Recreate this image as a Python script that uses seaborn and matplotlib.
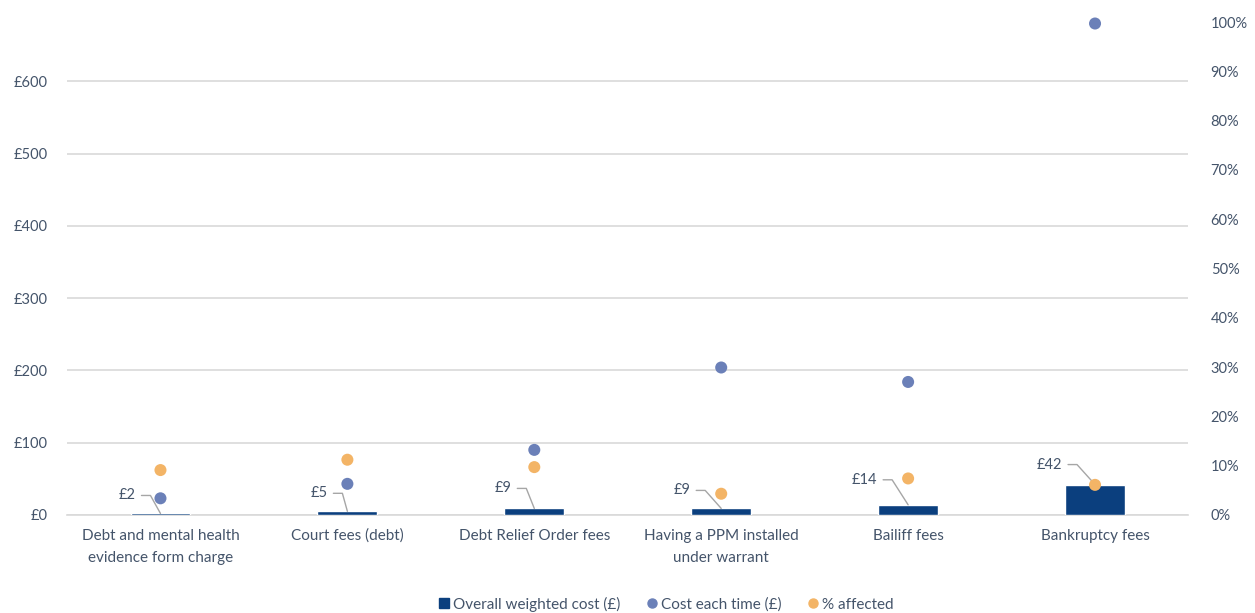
import matplotlib
matplotlib.use("Agg")
import matplotlib.pyplot as plt
from matplotlib.lines import Line2D
from matplotlib.ticker import FuncFormatter, MultipleLocator
import seaborn as sns
import pandas as pd

categories = [
    "Debt and mental health\nevidence form charge",
    "Court fees (debt)",
    "Debt Relief Order fees",
    "Having a PPM installed\nunder warrant",
    "Bailiff fees",
    "Bankruptcy fees",
]
weighted_cost = [2, 5, 9, 9, 14, 42]          # £, bars
cost_each_time = [23, 43, 90, 204, 184, 680]   # £, left axis
pct_affected = [0.091, 0.112, 0.097, 0.043, 0.074, 0.061]  # right axis

# label placement in pixels (text right edge left of bar centre, height above bar top)
label_dx = [-25, -20, -23, -31, -31, -33]
label_dy = [18, 18, 20, 18, 25, 20]

NAVY = "#0B3F7E"
SLATE = "#6B80B8"
ORANGE = "#F3B466"
TEXT = "#44546A"
GRID = "#D9D9D9"

df = pd.DataFrame({
    "category": categories,
    "weighted": weighted_cost,
    "cost": cost_each_time,
    "pct": pct_affected,
})

sns.set_theme(style="white")
plt.rcParams["font.family"] = ["Lato", "DejaVu Sans"]

fig = plt.figure(figsize=(12.55, 6.13), dpi=100)
ax = fig.add_axes([0.0534, 0.160, 0.8936, 0.804])
ax2 = ax.twinx()

sns.barplot(data=df, x="category", y="weighted", order=categories,
            color=NAVY, width=0.32, saturation=1, ax=ax, zorder=3)
sns.scatterplot(data=df, x="category", y="cost", color=SLATE, s=75,
                edgecolor="none", ax=ax, zorder=4, clip_on=False)
sns.scatterplot(data=df, x="category", y="pct", color=ORANGE, s=75,
                edgecolor="none", ax=ax2, zorder=4, clip_on=False)

ax.set_xlim(-0.5, len(categories) - 0.5)
ax.set_ylim(0, 682)
ax2.set_ylim(0, 1.0)

ax.yaxis.set_major_locator(MultipleLocator(100))
ax.yaxis.set_major_formatter(FuncFormatter(lambda v, p: f"£{v:.0f}"))
ax2.yaxis.set_major_locator(MultipleLocator(0.1))
ax2.yaxis.set_major_formatter(FuncFormatter(lambda v, p: f"{v*100:.0f}%"))

ax.grid(axis="y", color=GRID, linewidth=1.2, zorder=0)
ax.set_axisbelow(True)
ax2.grid(False)
for a in (ax, ax2):
    for s in a.spines.values():
        s.set_visible(False)
    a.set_xlabel("")
    a.set_ylabel("")
ax.spines["bottom"].set_visible(True)
ax.spines["bottom"].set_color(GRID)
ax.spines["bottom"].set_linewidth(1.2)

ax.tick_params(axis="y", length=0, pad=14, labelsize=10.5, labelcolor=TEXT)
ax2.tick_params(axis="y", length=0, pad=16, labelsize=10.5, labelcolor=TEXT)
ax.tick_params(axis="x", length=0, pad=10, labelsize=11, labelcolor=TEXT)
ax.set_xticks(range(len(categories)))
ax.set_xticklabels(categories, linespacing=1.75)

# data labels with leader lines
fig.canvas.draw()
inv = ax.transData.inverted()
for i, v in enumerate(weighted_cost):
    bx, by = ax.transData.transform((i, v))
    tx, ty = bx + label_dx[i], by + label_dy[i]
    ax.annotate(f"£{v}", xy=(i, v), xytext=(label_dx[i], label_dy[i]),
                textcoords="offset pixels", ha="right", va="center",
                fontsize=10.5, color=TEXT, zorder=5)
    pts = [(tx + 6, ty), (tx + 15, ty), (bx, by)]
    data_pts = inv.transform(pts)
    ax.add_line(Line2D(data_pts[:, 0], data_pts[:, 1], color="#A6A6A6",
                       linewidth=1.0, zorder=5, clip_on=False))

handles = [
    Line2D([], [], marker="s", linestyle="", color=NAVY, markersize=7.5),
    Line2D([], [], marker="o", linestyle="", color=SLATE, markersize=6.5),
    Line2D([], [], marker="o", linestyle="", color=ORANGE, markersize=6.5),
]
labels = ["Overall weighted cost (£)", "Cost each time (£)", "% affected"]
leg = fig.legend(handles, labels, loc="lower center", ncol=3,
                 bbox_to_anchor=(0.53, -0.02), frameon=False,
                 fontsize=11, handletextpad=0.05, columnspacing=1.6,
                 handlelength=1.0)
for t in leg.get_texts():
    t.set_color(TEXT)

fig.savefig("out.png", dpi=100)
